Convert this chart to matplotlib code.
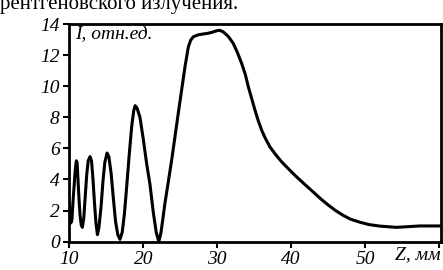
import numpy as np
import matplotlib
matplotlib.use('Agg')
import matplotlib.pyplot as plt

# Z, mm
z = [10.0, 10.1, 10.2, 10.35, 10.5, 10.65, 10.8, 10.95, 11.05, 11.15, 11.3, 11.45, 11.6, 11.76,
     11.95, 12.15, 12.35, 12.55, 12.8, 13.0, 13.2, 13.4, 13.6, 13.8,
     14.0, 14.3, 14.55, 14.8, 15.1, 15.35, 15.65, 15.95, 16.25, 16.55, 16.85,
     17.15, 17.45, 17.75, 18.1, 18.43, 18.7, 18.9, 19.15, 19.55, 20.0, 20.46, 20.9, 21.35, 21.75, 22.1,
     22.4, 22.93, 23.4, 23.84, 24.3, 24.73, 25.2, 25.64, 26.1, 26.4, 26.76, 27.4, 28.1, 28.7, 29.24,
     29.8, 30.3, 30.8, 31.5, 32.16, 32.7, 33.3, 33.8, 34.2, 34.6, 35.1, 35.5, 36.0, 36.5, 37.12,
     37.9, 38.7, 39.7, 40.7, 41.8, 42.97, 44.0, 45.0, 46.0, 47.0, 48.0, 49.3, 50.5, 52.0,
     54.2, 56.0, 57.4, 60.0]
# intensity, rel. units
i_rel = [2.5, 1.6, 1.2, 1.4, 2.6, 3.6, 4.6, 5.2, 5.1, 4.2, 2.8, 1.7, 1.1, 0.92,
         1.5, 2.9, 4.3, 5.2, 5.47, 5.2, 4.0, 2.5, 1.2, 0.45,
         0.9, 2.3, 3.9, 5.1, 5.7, 5.45, 4.4, 2.8, 1.3, 0.45, 0.15,
         0.6, 1.8, 3.5, 5.6, 7.4, 8.4, 8.75, 8.6, 8.0, 6.6, 5.0, 3.7, 1.9, 0.6, 0.0,
         0.6, 2.47, 3.9, 5.25, 6.8, 8.26, 9.8, 11.25, 12.54, 12.95, 13.18, 13.3, 13.36, 13.4, 13.46,
         13.55, 13.6, 13.5, 13.2, 12.76, 12.2, 11.47, 10.75, 9.97, 9.3, 8.47, 7.85, 7.18, 6.65, 6.1,
         5.6, 5.14, 4.65, 4.18, 3.7, 3.2, 2.75, 2.36, 2.0, 1.7, 1.45, 1.25, 1.1, 1.0,
         0.92, 0.97, 1.01, 1.01]

x_ticks = [10, 20, 30, 40, 50, 60]
x_labels = ['10', '20', '30', '40', '50', '']
y_ticks = [0, 2, 4, 6, 8, 10, 12, 14]

serif = 'Liberation Serif'

fig = plt.figure(figsize=(4.43, 2.70), dpi=100)
ax = fig.add_axes([0.1565, 0.105, 0.838, 0.806])
ax.plot(z, i_rel, color='black', linewidth=2.2)
ax.set_xlim(10, 60.2)
ax.set_ylim(0, 14)
ax.set_xticks(x_ticks)
ax.set_xticklabels(x_labels)
ax.set_yticks(y_ticks)
for s in ax.spines.values():
    s.set_linewidth(2.0)
ax.tick_params(direction='out', length=4, width=1.5, pad=3)
for lab in ax.get_xticklabels() + ax.get_yticklabels():
    lab.set_fontfamily(serif)
    lab.set_fontstyle('italic')
    lab.set_fontsize(14)

ax.text(0.015, 0.99, 'I, отн.ед.', transform=ax.transAxes, ha='left', va='top',
        fontfamily=serif, fontstyle='italic', fontsize=14)
ax.text(1.0, -0.02, 'Z, мм', transform=ax.transAxes, ha='right', va='top',
        fontfamily=serif, fontstyle='italic', fontsize=14)
fig.text(0.0, 0.985, 'рентгеновского излучения.', ha='left', va='center',
         fontfamily=serif, fontsize=15)

plt.savefig('out.png', dpi=100)
